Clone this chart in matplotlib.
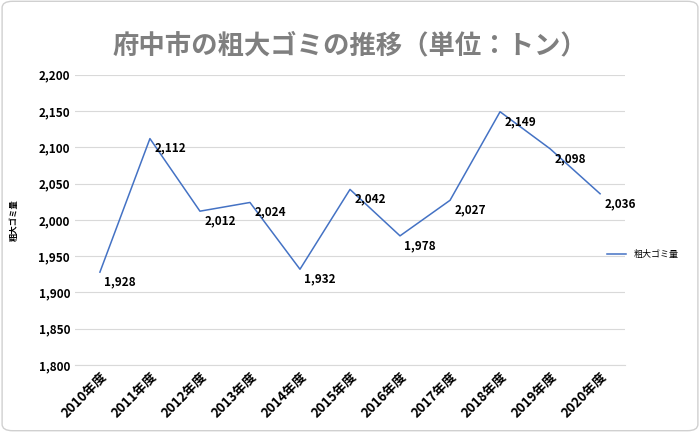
import matplotlib
matplotlib.use("Agg")
import matplotlib.pyplot as plt
from matplotlib.patches import FancyBboxPatch

plt.rcParams["font.family"] = "Noto Sans CJK JP"

years = ["2010年度", "2011年度", "2012年度", "2013年度", "2014年度", "2015年度",
         "2016年度", "2017年度", "2018年度", "2019年度", "2020年度"]
values = [1928, 2112, 2012, 2024, 1932, 2042, 1978, 2027, 2149, 2098, 2036]
yticks = list(range(1800, 2201, 50))

fig = plt.figure(figsize=(7, 4.32), dpi=100)
border = FancyBboxPatch((0.003, 0.003), 0.994, 0.994, boxstyle="round,pad=0,rounding_size=0.015",
                        transform=fig.transFigure, fc="white", ec="#d0d0d0", lw=1, zorder=-10)
fig.patches.append(border)
ax = fig.add_axes([0.107, 0.155, 0.786, 0.672])
ax.set_zorder(5)
ax.patch.set_alpha(0)
x = list(range(len(years)))
ax.plot(x, values, color="#4472C4", lw=1.1, label="粗大ゴミ量")
for xi, v in zip(x, values):
    ax.annotate(f"{v:,}", (xi, v), xytext=(3, -7), textcoords="offset points",
                fontsize=8.5, fontweight="bold", va="center", ha="left")
ax.set_xlim(-0.5, len(years) - 0.5)
ax.set_ylim(1800, 2200)
ax.set_yticks(yticks)
ax.set_yticklabels([f"{t:,}" for t in yticks], fontsize=8.5, fontweight="bold")
ax.set_xticks(x)
ax.set_xticklabels(years, rotation=45, ha="right", rotation_mode="anchor", fontsize=9.5, fontweight="bold")
ax.grid(axis="y", color="#d9d9d9", lw=0.8)
for s in ["top", "right", "left"]:
    ax.spines[s].set_visible(False)
ax.spines["bottom"].set_color("#d9d9d9")
ax.tick_params(length=0)
ax.set_ylabel("粗大ゴミ量", fontsize=6, fontweight="bold", labelpad=14)
fig.text(0.5, 0.895, "府中市の粗大ゴミの推移（単位：トン）", ha="center", va="center",
         fontsize=19, fontweight="bold", color="#7f7f7f")
fig.legend(loc="center left", bbox_to_anchor=(0.855, 0.41), frameon=False, fontsize=6.5,
           handlelength=2.2)
fig.savefig("out.png", dpi=100)
